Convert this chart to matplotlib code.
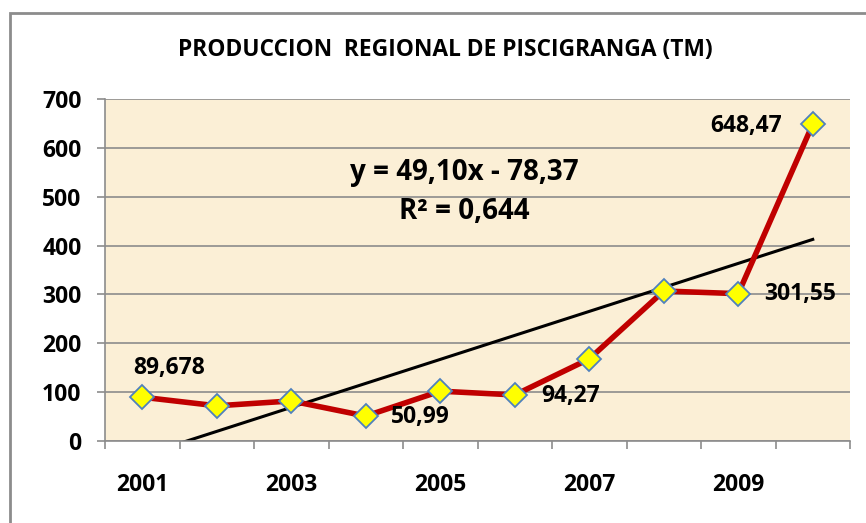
import numpy as np
import matplotlib
matplotlib.use("Agg")
import matplotlib.pyplot as plt
from matplotlib.patches import Rectangle

plt.rcParams["font.family"] = ["Open Sans", "DejaVu Sans"]
plt.rcParams["font.weight"] = "bold"

# data
years = [2001, 2002, 2003, 2004, 2005, 2006, 2007, 2008, 2009, 2010]
produccion = [89.678, 72, 82, 50.99, 102, 94.27, 168, 307, 301.55, 648.47]
label_years = ["2001", "2003", "2005", "2007", "2009"]
labelled = {0: "89,678", 3: "50,99", 5: "94,27", 8: "301,55", 9: "648,47"}
eq_text = "y = 49,10x - 78,37"
r2_text = "R² = 0,644"

x = np.arange(1, len(years) + 1)
y = np.array(produccion)
slope, intercept = np.polyfit(x, y, 1)

fig = plt.figure(figsize=(8.66, 5.23), dpi=100)
# outer chart frame
fig.patches.append(Rectangle((10 / 866, -0.1), 1.2, 1 - 13 / 523 + 0.1,
                             transform=fig.transFigure, fill=False,
                             edgecolor="#8c8c8c", linewidth=2))

ax = fig.add_axes([105 / 866, 1 - 441 / 523, 745 / 866, 342 / 523])
ax.set_facecolor("#fbefd6")
ax.set_xlim(0.5, 10.5)
ax.set_ylim(0, 700)

ax.set_yticks(np.arange(0, 701, 100))
ax.yaxis.grid(True, color="#8c8c8c", linewidth=1.2)
ax.set_axisbelow(True)
ax.tick_params(axis="y", length=6, color="#8c8c8c", width=1.2, pad=11, labelsize=16.5)

ax.set_xticks([1, 3, 5, 7, 9])
ax.set_xticklabels(label_years)
ax.set_xticks(np.arange(0.5, 10.6, 1), minor=True)
ax.tick_params(axis="x", which="major", length=0, pad=23, labelsize=16.5)
ax.tick_params(axis="x", which="minor", length=6, color="#8c8c8c", width=1.2)

for side in ["top", "right"]:
    ax.spines[side].set_visible(False)
for side in ["left", "bottom"]:
    ax.spines[side].set_color("#8c8c8c")
    ax.spines[side].set_linewidth(1.2)

# trend line
tx = np.array([1, 10])
ax.plot(tx, slope * tx + intercept, color="black", linewidth=2.2, zorder=2)

ax.plot(x, y, color="#c00000", linewidth=4, zorder=3,
        marker="D", markersize=12, markerfacecolor="#ffff00",
        markeredgecolor="#4f81bd", markeredgewidth=1.3)

offsets = {0: (19, 21, "center"), 3: (18, -1, "left"), 5: (19, -1, "left"),
           8: (19, 0, "left"), 9: (-22, -1, "right")}
for i, txt in labelled.items():
    dx, dy, ha = offsets[i]
    ax.annotate(txt, (x[i], y[i]), xytext=(dx, dy), textcoords="offset points",
                ha=ha, va="center", fontsize=16.5, fontweight="bold")

ax.text(0.482, 0.784, eq_text, transform=ax.transAxes, ha="center", va="center",
        fontsize=20, fontweight="bold")
ax.text(0.482, 0.67, r2_text, transform=ax.transAxes, ha="center", va="center",
        fontsize=20, fontweight="bold")

fig.text(445 / 866, 1 - 50 / 523, "PRODUCCION  REGIONAL DE PISCIGRANGA (TM)",
         ha="center", va="center", fontsize=16.4, fontweight="bold")

fig.savefig("out.png", dpi=100)
